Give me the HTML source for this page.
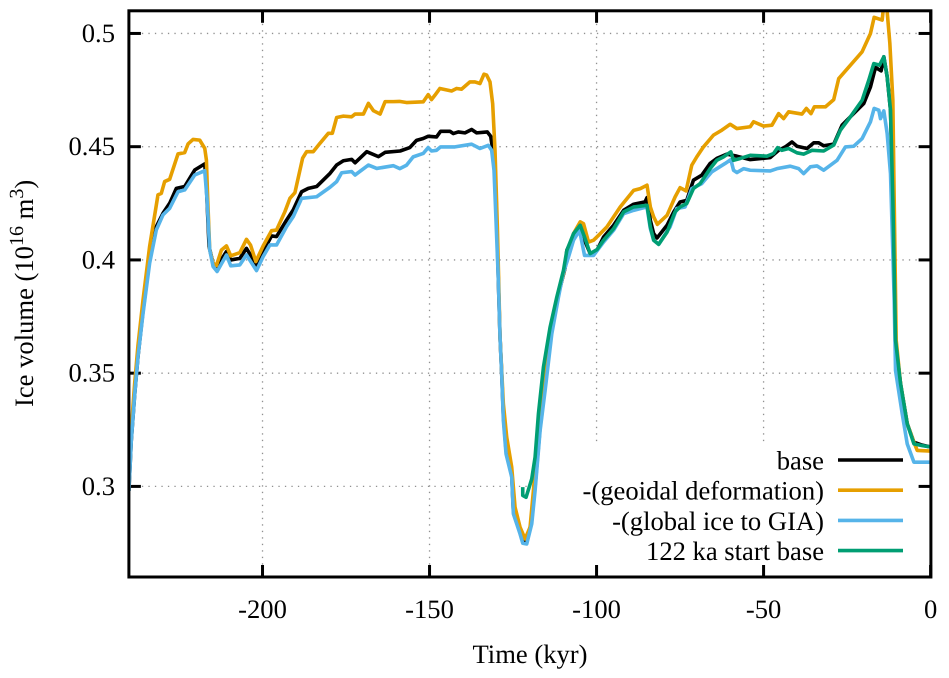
<!DOCTYPE html>
<html>
<head>
<meta charset="utf-8">
<title>Ice volume</title>
<style>
html,body{margin:0;padding:0;background:#fff;}
svg{display:block;}
text{font-family:"Liberation Serif",serif;font-size:26.6px;fill:#000;text-rendering:geometricPrecision;}
</style>
</head>
<body>
<svg id="chart" width="949" height="678" viewBox="0 0 949 678" xmlns="http://www.w3.org/2000/svg">
  <defs><clipPath id="plot-clip"><rect x="128.9" y="10.8" width="802" height="566.2"></rect></clipPath></defs>
  <g id="grid"></g>
  <rect x="530" y="446" width="396" height="124" fill="#fff"></rect>
  <g id="ticks"></g>
  <g id="series" clip-path="url(#plot-clip)"></g>
  <rect x="128.9" y="10.8" width="802" height="566.2" fill="none" stroke="#000" stroke-width="3"></rect>
  <g id="tick-labels"></g>
  <text x="530" y="663" text-anchor="middle">Time (kyr)</text>
  <text transform="translate(33,407) rotate(-90)">Ice volume (10<tspan dy="-10" font-size="20">16</tspan><tspan dy="10"> m</tspan><tspan dy="-10" font-size="20">3</tspan><tspan dy="10">)</tspan></text>
  <g id="legend"></g>
</svg>
<script>
const xTicks = [-200, -150, -100, -50, 0];
const yTicks = [0.3, 0.35, 0.4, 0.45, 0.5];
const xTickLabels = ["-200", "-150", "-100", "-50", "0"];
const yTickLabels = ["0.3", "0.35", "0.4", "0.45", "0.5"];

const baseTimes = [-240,-239.3,-238.3,-237.3,-235.8,-233.8,-231.8,-229.8,-227.8,-225.8,-223.3,-220.3,-217.3,-216.8,-216,-214.8,-213.6,-210.8,-209.5,-206.8,-204.8,-201.8,-199.8,-197.3,-195.8,-192.8,-190.8,-188.3,-186.3,-183.8,-179.8,-177.8,-175.8,-173.3,-172.3,-168.8,-165.3,-163.3,-158.8,-155.9,-153.9,-151.9,-150.4,-147.9,-146.7,-143.9,-142.9,-141.4,-139.4,-137.4,-135.9,-132.7,-131.7,-130.9,-130.1,-129.4,-128.9,-128.4,-127.9,-127.1,-125.4,-124.9,-122.9,-122.1,-120.9,-119.4,-118.4,-116.9,-115.4,-113.4,-111.4,-109.4,-108.9,-106.9,-104.9,-103.6,-101.9,-99.9,-97.9,-94.9,-91.9,-88.9,-85.5,-84.9,-83.9,-82.9,-81.9,-78.9,-76.9,-75,-73,-71,-68.5,-66,-64,-61,-58,-54,-48,-45.5,-43.5,-41.5,-40,-37,-35,-33.5,-32,-29,-26.5,-24,-20,-18,-16.5,-14.8,-14,-13,-12,-11.3,-10.5,-9,-7,-5,-2.5,0];
const baseValues = [0.298,0.32,0.34,0.357,0.377,0.4,0.4147,0.4206,0.425,0.4316,0.4324,0.4397,0.4424,0.4324,0.4059,0.3985,0.3971,0.4037,0.4,0.4007,0.4051,0.3978,0.4037,0.4106,0.4103,0.4176,0.4221,0.4301,0.4316,0.4324,0.4382,0.4419,0.4438,0.4444,0.4429,0.4478,0.4456,0.4475,0.4481,0.4496,0.4528,0.4536,0.4546,0.4543,0.4568,0.4568,0.4558,0.4565,0.4561,0.4576,0.4561,0.4565,0.4546,0.447,0.4293,0.391,0.366,0.35,0.331,0.316,0.305,0.289,0.28,0.276,0.2755,0.285,0.3,0.326,0.344,0.369,0.385,0.3965,0.4042,0.4106,0.4153,0.4087,0.4028,0.4042,0.4101,0.4153,0.4219,0.4246,0.4256,0.4275,0.4175,0.4116,0.4097,0.4153,0.4212,0.4256,0.4263,0.4352,0.4374,0.4426,0.4448,0.4467,0.4458,0.4443,0.4452,0.4484,0.4499,0.4521,0.4502,0.4492,0.4517,0.4517,0.4504,0.4511,0.4595,0.4632,0.4691,0.4764,0.485,0.4835,0.4897,0.4809,0.4661,0.4264,0.3645,0.3454,0.3277,0.3195,0.3182,0.3174];

const geoidTimes = [-240,-239.3,-238.3,-237.3,-235.8,-233.8,-231.3,-230.3,-229.3,-227.8,-225.3,-223.3,-222.3,-220.8,-218.8,-217.3,-216.8,-216.4,-215.8,-214.8,-213.8,-212.3,-210.8,-209.5,-206.8,-204.8,-203.6,-202,-199.8,-197.3,-195.8,-193.3,-191.8,-190.3,-188,-186.8,-184.8,-182.8,-180.3,-179.1,-177.8,-175.8,-173.3,-172.3,-169.8,-168.3,-166.8,-164.8,-163.3,-160.8,-159,-156.9,-151.9,-150.4,-149.4,-148.4,-146.9,-143.4,-141.9,-140.4,-137.9,-136.4,-134.9,-133.7,-132.9,-131.9,-131.1,-130.4,-129.7,-129.3,-128.9,-127.9,-126.9,-125.4,-124.4,-122.9,-121.4,-119.9,-118.9,-117.4,-115.4,-113.4,-111.4,-109.4,-108.4,-106.9,-104.9,-103.9,-102.4,-100.9,-98.9,-96.9,-92.9,-88.9,-86.9,-84.9,-83.9,-82.9,-81.8,-78.9,-76.5,-75,-73.2,-71.5,-70,-68,-65,-62.5,-60,-58,-54,-53,-50,-47.5,-45.5,-44,-42.5,-38.5,-37.2,-35.8,-34.8,-31.5,-29,-27.5,-24,-20.5,-18,-16.9,-14.5,-14,-13.2,-12.2,-11.3,-10.9,-10.3,-9,-7,-5,-4,0];
const geoidValues = [0.3,0.325,0.345,0.362,0.382,0.4059,0.4287,0.4294,0.4346,0.4356,0.4468,0.4474,0.4512,0.4532,0.4529,0.4493,0.4441,0.4265,0.4044,0.3985,0.3975,0.4044,0.4062,0.4018,0.4032,0.4091,0.4066,0.3993,0.4062,0.4129,0.4132,0.4213,0.4272,0.4297,0.4449,0.4478,0.4478,0.4515,0.4559,0.4559,0.4629,0.4635,0.4632,0.4644,0.4644,0.4691,0.4659,0.4644,0.4699,0.4699,0.47,0.4695,0.4698,0.473,0.4708,0.4727,0.4757,0.4746,0.4757,0.4754,0.4786,0.4786,0.4779,0.482,0.4816,0.4786,0.469,0.4484,0.4146,0.391,0.366,0.3365,0.3218,0.3085,0.2908,0.282,0.2768,0.282,0.2982,0.3247,0.3512,0.369,0.385,0.397,0.4035,0.4116,0.4168,0.416,0.4079,0.4087,0.4116,0.4146,0.4234,0.4307,0.4315,0.433,0.4234,0.419,0.4157,0.4197,0.4278,0.4319,0.4305,0.4418,0.4455,0.4499,0.4551,0.4573,0.4599,0.458,0.4588,0.461,0.4591,0.4595,0.4646,0.4624,0.4654,0.4644,0.4669,0.4646,0.4676,0.4676,0.4708,0.4801,0.486,0.4919,0.5,0.5071,0.5059,0.513,0.513,0.4956,0.4705,0.4264,0.3645,0.3454,0.3277,0.3195,0.3159,0.3156];

const giaTimes = [-240,-239.3,-238.3,-237.3,-235.8,-233.8,-231.8,-229.8,-227.8,-225.3,-223.3,-220.3,-217.3,-216.6,-215.8,-214.8,-213.6,-210.8,-209.5,-206.8,-204.8,-201.8,-199.8,-197.8,-195.8,-192.8,-190.8,-188.3,-183.8,-179.8,-177.8,-176.3,-173.3,-172.3,-168.3,-165.8,-160.8,-158.9,-156.9,-154.9,-151.9,-150.4,-149.4,-147.9,-146.7,-142.4,-137.4,-134.9,-132.4,-131.4,-130.7,-130.1,-129.4,-128.9,-128.4,-127.9,-127.1,-125.4,-124.9,-122.9,-122.1,-120.9,-119.4,-118.4,-116.9,-115.4,-113.4,-111.4,-110,-108.4,-106.9,-105.1,-103.6,-100.9,-97.9,-94.9,-91.9,-88.9,-84.9,-83.9,-82.9,-81.4,-78,-76,-73.5,-71.5,-68.5,-65.5,-61.5,-59.8,-59,-58,-56,-54,-48,-46,-42,-39.5,-38,-36,-34,-32,-28,-25.5,-23,-20.5,-18,-16.9,-15.5,-15,-14,-13,-12,-11.3,-10.9,-10.5,-8.5,-7,-5,-2.5,0];
const giaValues = [0.298,0.32,0.34,0.357,0.376,0.3985,0.4132,0.4199,0.4228,0.4301,0.4309,0.4375,0.4394,0.4265,0.4044,0.3971,0.3949,0.4022,0.3974,0.3978,0.4022,0.3953,0.4015,0.4066,0.4066,0.4147,0.4191,0.4272,0.4279,0.4321,0.4346,0.4385,0.439,0.4375,0.4419,0.4404,0.4416,0.4403,0.4418,0.4455,0.447,0.4496,0.4481,0.4484,0.4499,0.4499,0.4511,0.4492,0.4506,0.4484,0.4396,0.4175,0.391,0.3659,0.3497,0.3291,0.3144,0.3041,0.2879,0.279,0.2749,0.2746,0.2835,0.2982,0.3247,0.3424,0.3674,0.3836,0.394,0.4013,0.4087,0.4131,0.402,0.402,0.4079,0.4131,0.4204,0.4219,0.4234,0.4138,0.4087,0.4069,0.4146,0.4227,0.4234,0.4315,0.4337,0.4389,0.4426,0.4443,0.4396,0.4386,0.4403,0.4396,0.4393,0.4403,0.4414,0.4403,0.4381,0.4411,0.4415,0.4396,0.444,0.4499,0.4502,0.4536,0.461,0.4669,0.4661,0.4624,0.4658,0.4558,0.4381,0.4028,0.3822,0.3512,0.3321,0.3188,0.3107,0.3107,0.3107];

const startTimes = [-122.1,-122.1,-121.1,-119.4,-118.4,-117.4,-115.9,-113.9,-111.9,-109.9,-108.9,-106.9,-104.9,-103.6,-101.9,-99.9,-97.9,-94.9,-91.9,-88.9,-84.9,-83.9,-82.9,-81.4,-78.9,-76.5,-75,-73,-71,-69,-66,-64,-62,-59.8,-59,-57,-54,-49,-47,-45.8,-44.5,-42.5,-40,-38,-35.5,-32,-29,-27,-24,-20.5,-18.5,-17,-15.3,-14,-13,-12,-11.3,-10.5,-9,-7,-5,-2.5,0];
const startValues = [0.2997,0.296,0.2952,0.3033,0.3129,0.3321,0.3527,0.3704,0.3836,0.3954,0.4042,0.4116,0.4153,0.4101,0.4028,0.4045,0.4087,0.4138,0.4212,0.4234,0.4241,0.4146,0.4087,0.4069,0.4123,0.4212,0.4234,0.4249,0.4315,0.4337,0.4403,0.444,0.4455,0.4477,0.444,0.4448,0.4462,0.4458,0.447,0.4496,0.4484,0.4492,0.4473,0.4467,0.4484,0.4481,0.4507,0.4573,0.4632,0.4705,0.4794,0.4867,0.486,0.4897,0.4809,0.4661,0.4264,0.3645,0.3454,0.3277,0.3188,0.318,0.3174];

const legendLabels = ["base", "-(geoidal deformation)", "-(global ice to GIA)", "122 ka start base"];

const NS = "http://www.w3.org/2000/svg";
const PLOT = { left: 128.9, right: 930.6, top: 10.8, bottom: 577 };
const xMin = -240, xMax = 0, yMin = 0.26, yMax = 0.51;
const LINE_W = 3.6;
function xScale(t) { return PLOT.left + (t - xMin) / (xMax - xMin) * (PLOT.right - PLOT.left); }
function yScale(v) { return PLOT.bottom - (v - yMin) / (yMax - yMin) * (PLOT.bottom - PLOT.top); }

function svgEl(tag, attrs, parent) {
  const el = document.createElementNS(NS, tag);
  for (const k in attrs) el.setAttribute(k, attrs[k]);
  parent.appendChild(el);
  return el;
}

const gridG = document.getElementById("grid");
const ticksG = document.getElementById("ticks");
const labelsG = document.getElementById("tick-labels");
const gridStyle = { stroke: "#909090", "stroke-width": 1.3, "stroke-dasharray": "1.3 5.2", fill: "none" };

xTicks.forEach(function (t, i) {
  const x = xScale(t);
  if (t !== 0) {
    const g = svgEl("line", Object.assign({ x1: x, x2: x, y1: PLOT.top, y2: PLOT.bottom }, gridStyle), gridG);
    
    
  }
  const a = svgEl("line", { x1: x, x2: x, y1: PLOT.bottom, y2: PLOT.bottom - 12, stroke: "#000", "stroke-width": 3 }, ticksG);
  
  
  const b = svgEl("line", { x1: x, x2: x, y1: PLOT.top, y2: PLOT.top + 12, stroke: "#000", "stroke-width": 3 }, ticksG);
  
  
  const l = svgEl("text", { x: x, y: 618, "text-anchor": "middle" }, labelsG);
  
  
  l.textContent = xTickLabels[i];
});

yTicks.forEach(function (v, i) {
  const y = yScale(v);
  const g = svgEl("line", Object.assign({ x1: PLOT.left, x2: PLOT.right, y1: y, y2: y }, gridStyle), gridG);
  
  
  const a = svgEl("line", { x1: PLOT.left, x2: PLOT.left + 12, y1: y, y2: y, stroke: "#000", "stroke-width": 3 }, ticksG);
  
  
  const b = svgEl("line", { x1: PLOT.right - 12, x2: PLOT.right, y1: y, y2: y, stroke: "#000", "stroke-width": 3 }, ticksG);
  
  
  const l = svgEl("text", { x: 115, y: y + 8.5, "text-anchor": "end" }, labelsG);
  
  
  l.textContent = yTickLabels[i];
});

function pointsOf(times, values) {
  return times.map(function (t, i) { return xScale(t).toFixed(2) + "," + yScale(values[i]).toFixed(2); }).join(" ");
}
const seriesG = document.getElementById("series");
const legendG = document.getElementById("legend");
const colors = ["#000000", "#E69F00", "#56B4E9", "#009E73"];

const lineBase = svgEl("polyline", { points: pointsOf(baseTimes, baseValues), fill: "none", stroke: colors[0], "stroke-width": LINE_W, "stroke-linejoin": "round" }, seriesG);


const lineGeoid = svgEl("polyline", { points: pointsOf(geoidTimes, geoidValues), fill: "none", stroke: colors[1], "stroke-width": LINE_W, "stroke-linejoin": "round" }, seriesG);


const lineGia = svgEl("polyline", { points: pointsOf(giaTimes, giaValues), fill: "none", stroke: colors[2], "stroke-width": LINE_W, "stroke-linejoin": "round" }, seriesG);


const lineStart = svgEl("polyline", { points: pointsOf(startTimes, startValues), fill: "none", stroke: colors[3], "stroke-width": LINE_W, "stroke-linejoin": "round" }, seriesG);



legendLabels.forEach(function (name, i) {
  const ly = 460 + i * 30.2;
  const swatch = svgEl("line", { x1: 838, x2: 903, y1: ly, y2: ly, stroke: colors[i], "stroke-width": LINE_W }, legendG);
  
  
  const label = svgEl("text", { x: 824, y: ly + 9.5, "text-anchor": "end" }, legendG);
  
  
  label.textContent = name;
});
</script>
</body>
</html>
